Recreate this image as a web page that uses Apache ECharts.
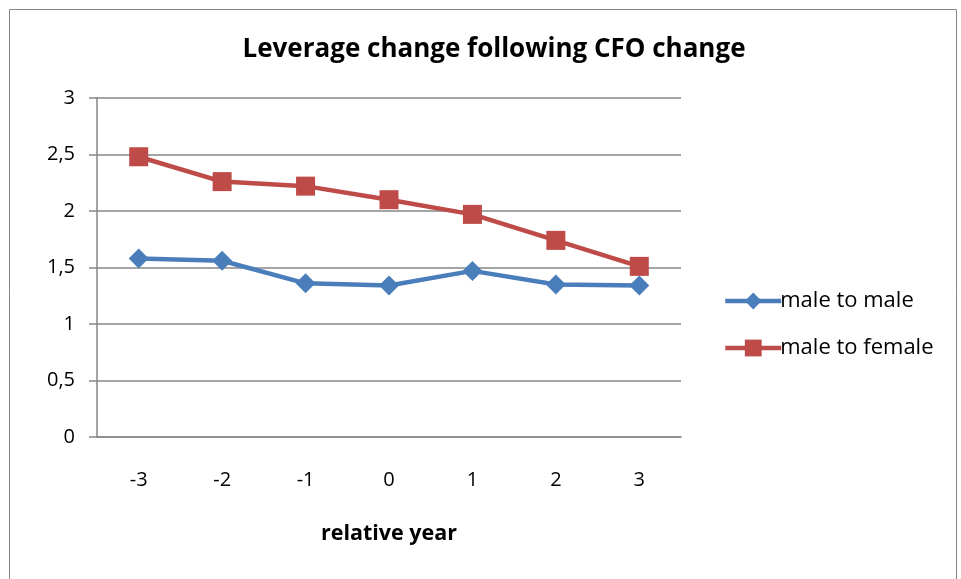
<!DOCTYPE html>
<html>
<head>
<meta charset="utf-8">
<script src="https://cdn.jsdelivr.net/npm/echarts@6/dist/echarts.min.js"></script>
<style>
  html, body { margin: 0; padding: 0; background: #fff; }
  #chart { width: 961px; height: 579px; }
</style>
</head>
<body>
<div id="chart"></div>
<script>
// relative year around the CFO change
const years = ['-3', '-2', '-1', '0', '1', '2', '3'];
const maleToMale = [1.58, 1.56, 1.36, 1.34, 1.47, 1.35, 1.34];
const maleToFemale = [2.48, 2.26, 2.22, 2.10, 1.97, 1.74, 1.51];

const chart = echarts.init(document.getElementById('chart'), null, { renderer: 'canvas' });
const font = 'Open Sans, Liberation Sans, sans-serif';

const option = {
  backgroundColor: '#fff',
  animation: false,
  graphic: [{
    type: 'rect',
    shape: { x: 9.5, y: 9.5, width: 947, height: 600 },
    style: { fill: 'none', stroke: '#868686', lineWidth: 1 }
  }],
  title: {
    text: 'Leverage change following CFO change',
    left: 489, top: 32, textAlign: 'center',
    textStyle: { fontFamily: font, fontSize: 26, fontWeight: 'bold', color: '#000' }
  },
  legend: {
    orient: 'vertical',
    left: 718, top: 285,
    itemWidth: 56, itemHeight: 21, itemGap: 25,
    lineStyle: { width: 4.5 },
    textStyle: { fontFamily: font, fontSize: 22, color: '#000', padding: [0, 0, 0, -6] },
    data: ['male to male', 'male to female']
  },
  grid: { left: 97, right: 280, top: 98, bottom: 142 },
  xAxis: {
    type: 'category',
    data: years,
    name: 'relative year',
    nameLocation: 'middle',
    nameGap: 86,
    nameTextStyle: { fontFamily: font, fontSize: 21.5, fontWeight: 'bold', color: '#000' },
    axisLine: { lineStyle: { color: '#868686', width: 1.5 } },
    axisTick: { length: 8, lineStyle: { color: '#868686', width: 1.5 } },
    axisLabel: { margin: 33, fontFamily: font, fontSize: 20, color: '#000' }
  },
  yAxis: {
    type: 'value',
    min: 0, max: 3, interval: 0.5,
    axisLine: { show: true, lineStyle: { color: '#868686', width: 1.5 } },
    axisTick: { show: true, length: 8, lineStyle: { color: '#868686', width: 1.5 } },
    splitLine: { lineStyle: { color: '#868686', width: 1.5 } },
    axisLabel: {
      margin: 22, fontFamily: font, fontSize: 20, color: '#000',
      formatter: v => String(v).replace('.', ',')
    }
  },
  series: [{
    name: 'male to male',
    type: 'line',
    data: maleToMale,
    color: '#4a7ebb',
    symbol: 'diamond', symbolSize: 20,
    lineStyle: { width: 4.5 }
  }, {
    name: 'male to female',
    type: 'line',
    data: maleToFemale,
    color: '#be4b48',
    symbol: 'rect', symbolSize: 19,
    lineStyle: { width: 4.5 }
  }]
};

chart.setOption(option);
</script>
</body>
</html>
